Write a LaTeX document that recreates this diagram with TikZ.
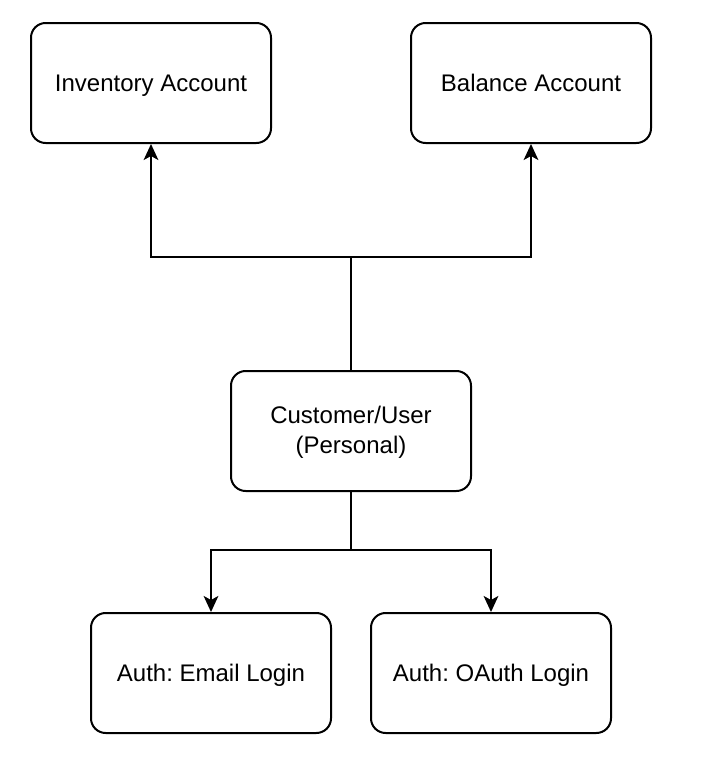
\documentclass[tikz,border=0pt]{standalone}
\usepackage{fontspec}
\setmainfont{Liberation Sans}
\usetikzlibrary{arrows.meta}
\begin{document}
\frenchspacing
\begin{tikzpicture}[x=0.75pt,y=-0.75pt,
  box/.style={draw=black,line width=1.5pt,rounded corners=11pt,fill=white,
    minimum width=180pt,minimum height=90pt,align=center,inner sep=0pt,
    font=\fontsize{18pt}{22.5pt}\selectfont},
  oneline/.style={text height=14.5pt,text depth=2.5pt},
  conn/.style={line width=1.5pt,-{Stealth[length=12pt,width=11pt,inset=3pt]}},
  plain/.style={line width=1.5pt}]
\useasboundingbox (0,0) rectangle (706,778);
\node[box,oneline] (inv) at (151,83) {Inventory Account};
\node[box,oneline] (bal) at (531,83) {Balance Account};
\node[box,text height=36.5pt,text depth=2.5pt] (cust) at (351,431) {Customer/User\\(Personal)};
\node[box,oneline] (email) at (211,673) {Auth: Email Login};
\node[box,oneline] (oauth) at (491,673) {Auth: OAuth Login};
\coordinate (top) at (351,257);
\coordinate (bot) at (351,550);
\draw[plain] (cust.north) -- (top);
\draw[conn] (top) -| (inv.south);
\draw[conn] (top) -| (bal.south);
\draw[plain] (cust.south) -- (bot);
\draw[conn] (bot) -| (email.north);
\draw[conn] (bot) -| (oauth.north);
\end{tikzpicture}
\end{document}
